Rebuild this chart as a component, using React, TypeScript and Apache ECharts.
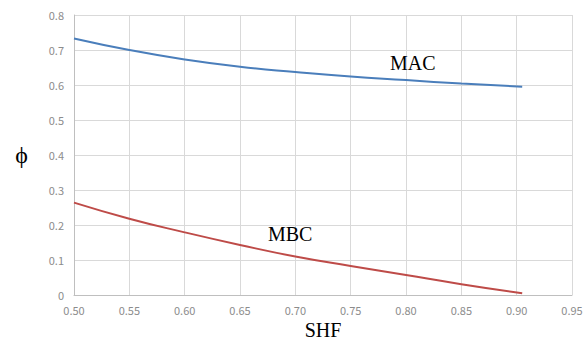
import React, { useEffect, useRef } from "react";
import * as echarts from "echarts";

const shf = [0.5, 0.55, 0.6, 0.65, 0.7, 0.75, 0.8, 0.85, 0.905];
const mac = [0.733, 0.7, 0.673, 0.652, 0.637, 0.624, 0.614, 0.604, 0.595];
const mbc = [0.264, 0.218, 0.179, 0.143, 0.11, 0.083, 0.057, 0.031, 0.005];

export default function App() {
  const ref = useRef<HTMLDivElement>(null);
  useEffect(() => {
    if (!ref.current) return;
    const chart = echarts.init(ref.current, null, { renderer: "svg" });
    const tickFont = { color: "#8c8c8c", fontSize: 11, fontFamily: "Noto Sans CJK JP" };
    chart.setOption({
      animation: false,
      grid: { left: 74, right: 16, top: 15, bottom: 47, outerBoundsMode: "none", containLabel: false },
      xAxis: {
        type: "value",
        min: 0.5,
        max: 0.95,
        interval: 0.05,
        name: "SHF",
        nameLocation: "middle",
        nameGap: 24,
        nameTextStyle: { fontFamily: "Liberation Serif", fontSize: 20, color: "#000" },
        axisLine: { lineStyle: { color: "#bfbfbf" } },
        axisTick: { show: false },
        axisLabel: { ...tickFont, margin: 9, formatter: (v: number) => v.toFixed(2) },
        splitLine: { show: true, lineStyle: { color: "#d9d9d9" } },
      },
      yAxis: {
        type: "value",
        min: 0,
        max: 0.8,
        interval: 0.1,
        name: "ϕ",
        nameLocation: "middle",
        nameRotate: 0,
        nameGap: 46,
        nameTextStyle: { fontFamily: "Liberation Serif", fontSize: 24, color: "#000" },
        axisLine: { show: true, lineStyle: { color: "#bfbfbf" } },
        axisTick: { show: false },
        axisLabel: { ...tickFont, margin: 10, formatter: (v: number) => (v === 0 ? "0" : v.toFixed(1)) },
        splitLine: { show: true, lineStyle: { color: "#d9d9d9" } },
      },
      graphic: [
        { type: "text", z: 100, left: 390, top: 53, style: { text: "MAC", fontFamily: "Liberation Serif", fontSize: 20, fill: "#000" } },
        { type: "text", z: 100, left: 268, top: 224, style: { text: "MBC", fontFamily: "Liberation Serif", fontSize: 20, fill: "#000" } },
      ],
      series: [
        {
          name: "MAC",
          type: "line",
          smooth: true,
          showSymbol: false,
          data: shf.map((x, i) => [x, mac[i]]),
          lineStyle: { color: "#4a7ebb", width: 2 },
        },
        {
          name: "MBC",
          type: "line",
          smooth: true,
          showSymbol: false,
          data: shf.map((x, i) => [x, mbc[i]]),
          lineStyle: { color: "#be4b48", width: 2 },
        },
      ],
    });
    return () => chart.dispose();
  }, []);
  return <div ref={ref} style={{ width: 588, height: 342, position: "absolute", left: 0, top: 0 }} />;
}
